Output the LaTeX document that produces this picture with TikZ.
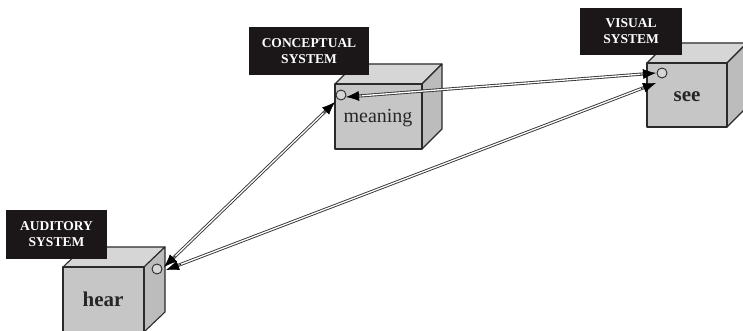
\documentclass[tikz,border=0pt]{standalone}
\usepackage{fontspec}
\setmainfont{Liberation Serif}
\usetikzlibrary{arrows.meta,calc}
\definecolor{facefront}{HTML}{C6C6C7}
\definecolor{facetop}{HTML}{D6D6D7}
\definecolor{faceside}{HTML}{BCBCBD}
\definecolor{edge}{HTML}{2A2A2A}
\definecolor{labelbg}{HTML}{1B1718}
\newcommand{\mycube}[6]{%
  % front (#1,#2)-(#3,#4), depth (#5,#6)
  \fill[facetop,draw=edge,line width=1.1pt,line join=round] (#1,#2) -- ++(#5,#6) -- ($(#3,#2)+(#5,#6)$) -- (#3,#2) -- cycle;
  \fill[faceside,draw=edge,line width=1.1pt,line join=round] (#3,#2) -- ++(#5,#6) -- ($(#3,#4)+(#5,#6)$) -- (#3,#4) -- cycle;
  \fill[facefront,draw=edge,line width=1.1pt,line join=round] (#1,#2) rectangle (#3,#4);
}
\newcommand{\mylink}[2]{%
  \draw[linkline] (#1) -- (#2);
  \draw[linktip] ($(#1)!16pt!(#2)$) -- (#1);
  \draw[linktip] ($(#2)!16pt!(#1)$) -- (#2);
}
\tikzset{
  syslabel/.style={fill=labelbg, text=white, inner sep=0pt, align=center,
     font=\bfseries\fontsize{13.5}{16}\selectfont},
  port/.style={circle, draw=edge, fill=facetop, line width=0.9pt, minimum size=10pt, inner sep=0pt},
  linkline/.style={draw=black!80, line width=0.9pt, double=white, double distance=1.3pt,
     shorten <=10pt, shorten >=10pt},
  linktip/.style={draw=black, line width=0.6pt, -{Latex[length=13pt,width=10pt]}},
  cubetext/.style={font=\fontsize{20}{22}\selectfont, text=black!85}
}
\begin{document}
\begin{tikzpicture}[x=1pt,y=-1pt]
\useasboundingbox (0,0) rectangle (743,331);
% cubes
\mycube{335}{84}{422}{149}{20}{-20}
\mycube{647}{63}{727}{127}{20}{-20}
\mycube{63}{267}{144}{332}{21}{-20}
% labels
\node[syslabel, minimum width=120pt, minimum height=48pt] (conlab) at (309,51) {CONCEPTUAL\\SYSTEM};
\node[syslabel, minimum width=102pt, minimum height=47pt] (vislab) at (631,31.5) {VISUAL\\SYSTEM};
\node[syslabel, minimum width=101pt, minimum height=49pt] (audlab) at (56.5,234.5) {AUDITORY\\SYSTEM};
% cube texts
\node[cubetext] (meaningtxt) at (378,118) {meaning};
\node[cubetext, font=\bfseries\fontsize{21}{22}\selectfont] (seetxt) at (687,97) {see};
\node[cubetext, font=\bfseries\fontsize{21}{22}\selectfont] (heartxt) at (103,299) {hear};
% ports
\node[port] (pm) at (341,95) {};
\node[port] (ps) at (662,73) {};
\node[port] (ph) at (157,269) {};
% connector end points
\coordinate (h1) at (164,267);
\coordinate (m1) at (335,102);
\coordinate (h2) at (166,270);
\coordinate (s2) at (656,83);
\coordinate (m3) at (346,97);
\coordinate (s3) at (656,73);
\mylink{h1}{m1}
\mylink{h2}{s2}
\mylink{m3}{s3}
\end{tikzpicture}
\end{document}
